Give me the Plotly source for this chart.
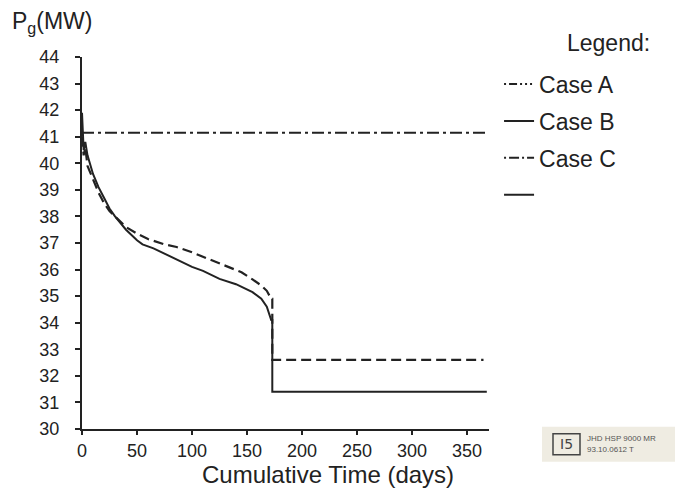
import plotly.graph_objects as go

# ---- data ----
days_a = [0, 1.5, 3, 5, 10, 15, 20, 25, 30, 40, 50, 60, 75, 86, 100, 115, 131, 145, 155, 163, 168, 172, 173, 173, 365]
pg_a = [41.0, 40.3, 40.6, 39.9, 39.4, 38.9, 38.5, 38.2, 38.0, 37.6, 37.35, 37.15, 36.95, 36.85, 36.65, 36.4, 36.16, 35.9, 35.63, 35.4, 35.2, 34.9, 34.9, 32.6, 32.6]

days_b = [0, 1.5, 3, 5, 10, 15, 20, 25, 30, 35, 40, 50, 55, 65, 75, 86, 100, 110, 125, 140, 155, 163, 168, 172, 173, 173, 368]
pg_b = [41.9, 40.5, 40.8, 40.3, 39.6, 39.1, 38.7, 38.3, 38.0, 37.75, 37.5, 37.1, 36.95, 36.8, 36.6, 36.4, 36.1, 35.95, 35.65, 35.45, 35.15, 34.9, 34.6, 34.1, 34.1, 31.4, 31.4]

days_c = [0, 370]
pg_c = [41.15, 41.15]

legend_names = ["Case A", "Case B", "Case C", " "]
x_ticks = [0, 50, 100, 150, 200, 250, 300, 350]
y_ticks = list(range(30, 45))

INK = "#222222"

fig = go.Figure()
fig.add_trace(go.Scatter(x=days_c, y=pg_c, mode="lines", showlegend=False,
                         line=dict(color=INK, width=2, dash="12px,4px,3px,4px")))
fig.add_trace(go.Scatter(x=days_a, y=pg_a, mode="lines", showlegend=False,
                         line=dict(color=INK, width=2.2, dash="10px,5px")))
fig.add_trace(go.Scatter(x=days_b, y=pg_b, mode="lines", showlegend=False,
                         line=dict(color=INK, width=2)))

# legend-only entries (styles as drawn in the reference legend)
legend_dashes = ["2px,3px,8px,3px,2px,3px,2px,3px", "solid", "2px,3px,10px,3px", "solid"]
for i, (nm, ds) in enumerate(zip(legend_names, legend_dashes)):
    fig.add_trace(go.Scatter(x=[None], y=[None], mode="lines", name=nm,
                             legendgroup=f"g{i}",
                             line=dict(color=INK, width=2, dash=ds)))

fig.update_layout(
    width=675, height=492,
    margin=dict(l=82, r=186, t=57, b=63),
    paper_bgcolor="white", plot_bgcolor="white",
    font=dict(family="Liberation Sans", color=INK),
    legend=dict(x=1.0247, xanchor="left", y=0.985, yanchor="top",
                font=dict(family="Liberation Sans", size=23, color=INK),
                traceorder="grouped", tracegroupgap=4,
                bgcolor="rgba(0,0,0,0)", borderwidth=0),
    showlegend=True,
)
fig.update_xaxes(range=[0, 370], tickvals=x_ticks, showgrid=False, zeroline=False,
                 showline=True, linecolor=INK, linewidth=2,
                 ticks="outside", ticklen=4, tickwidth=2, tickcolor=INK,
                 tickfont=dict(family="Liberation Sans", size=18, color=INK))
fig.update_yaxes(range=[30, 44], tickvals=y_ticks, showgrid=False, zeroline=False,
                 showline=True, linecolor=INK, linewidth=2,
                 ticks="outside", ticklen=5, tickwidth=2, tickcolor=INK,
                 ticklabelstandoff=12,
                 tickfont=dict(family="Liberation Sans", size=18, color=INK))

# axis titles / labels
fig.add_annotation(xref="paper", yref="paper", x=(328 - 82) / 407, y=-(475 - 429.3) / 372.3,
                   text="Cumulative Time (days)", showarrow=False,
                   font=dict(family="Liberation Sans", size=24, color=INK),
                   xanchor="center", yanchor="middle")
fig.add_annotation(xref="paper", yref="paper", x=-(82 - 10) / 407, y=1 + (57 - 22) / 372.3,
                   text="P<sub>g</sub>(MW)", showarrow=False,
                   font=dict(family="Liberation Sans", size=23, color=INK),
                   xanchor="left", yanchor="middle")
fig.add_annotation(xref="paper", yref="paper", x=1 + (565 - 489) / 407, y=1 + (57 - 43) / 372.3,
                   text="Legend:", showarrow=False,
                   font=dict(family="Liberation Sans", size=23, color=INK),
                   xanchor="left", yanchor="middle")

# stamp in the lower-right corner
fig.add_shape(type="rect", xref="paper", yref="paper",
              x0=1 + (542 - 489) / 407, x1=1 + (675 - 489) / 407,
              y0=-(462 - 429.3) / 372.3, y1=-(427 - 429.3) / 372.3,
              fillcolor="#efece2", line=dict(width=0), layer="below")
fig.add_shape(type="rect", xref="paper", yref="paper",
              x0=1 + (553 - 489) / 407, x1=1 + (580 - 489) / 407,
              y0=-(455 - 429.3) / 372.3, y1=-(434 - 429.3) / 372.3,
              line=dict(color="#444", width=1.5), fillcolor="rgba(0,0,0,0)")
fig.add_annotation(xref="paper", yref="paper", x=1 + (566.5 - 489) / 407, y=-(444.5 - 429.3) / 372.3,
                   text="I5", showarrow=False, font=dict(family="DejaVu Sans", size=14, color="#444"),
                   xanchor="center", yanchor="middle")
fig.add_annotation(xref="paper", yref="paper", x=1 + (585 - 489) / 407, y=-(439 - 429.3) / 372.3,
                   text="JHD HSP 9000 MR", showarrow=False,
                   font=dict(family="Liberation Sans", size=8, color="#555"),
                   xanchor="left", yanchor="middle")
fig.add_annotation(xref="paper", yref="paper", x=1 + (585 - 489) / 407, y=-(450 - 429.3) / 372.3,
                   text="93.10.0612 T", showarrow=False,
                   font=dict(family="Liberation Sans", size=8, color="#555"),
                   xanchor="left", yanchor="middle")

fig.write_html("out.html")
